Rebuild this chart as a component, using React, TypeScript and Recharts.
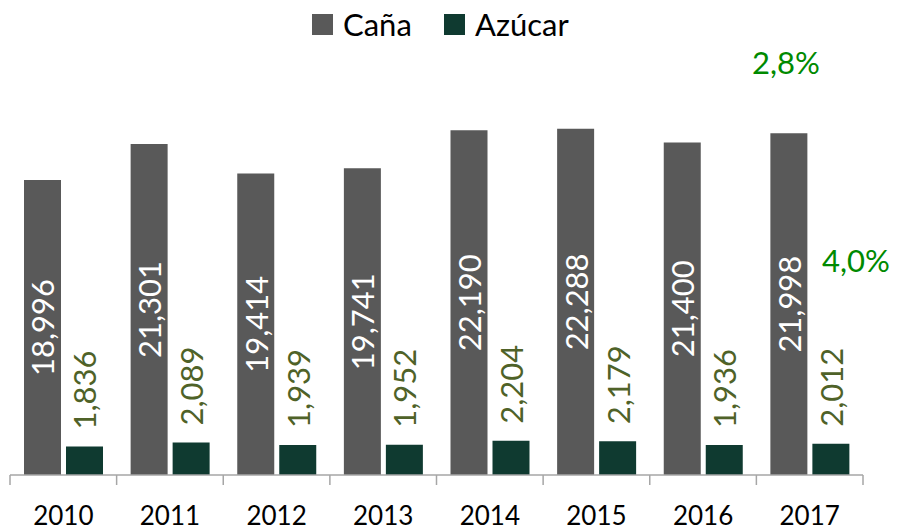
import React from 'react';
import { BarChart, Bar, XAxis, YAxis, LabelList } from 'recharts';

const years = ['2010', '2011', '2012', '2013', '2014', '2015', '2016', '2017'];
const cana = [18996, 21301, 19414, 19741, 22190, 22288, 21400, 21998];
const azucar = [1836, 2089, 1939, 1952, 2204, 2179, 1936, 2012];
const seriesNames = ['Caña', 'Azúcar'];
const growthCana = '2,8%';
const growthAzucar = '4,0%';

const W = 897;
const H = 531;
const M = { top: 9, right: 34, left: 10, bottom: 0 };
const FONT = 'Lato, "Open Sans", sans-serif';
const CANA_COLOR = '#595959';
const AZUCAR_COLOR = '#0f3a30';
const AZUCAR_LABEL = '#4f6228';
const GROWTH_COLOR = '#008a00';

const data = years.map((y, i) => ({ year: y, cana: cana[i], azucar: azucar[i] }));
const band = (W - M.left - M.right) / years.length;

const fmt = (v: number) => v.toLocaleString('en-US');

const CanaLabel = (props: any) => {
  const { x, y, width, height, value } = props;
  const cx = x + width / 2;
  const cy = y + height / 2;
  return (
    <text
      x={cx}
      y={cy}
      transform={`rotate(-90 ${cx} ${cy})`}
      textAnchor="middle"
      dominantBaseline="central"
      fill="#ffffff"
      fontSize={31}
      fontFamily={FONT}
    >
      {fmt(value)}
    </text>
  );
};

const AzucarLabel = (props: any) => {
  const { x, y, width, value } = props;
  const cx = x + width / 2;
  const cy = y - 17;
  return (
    <text
      x={cx}
      y={cy}
      transform={`rotate(-90 ${cx} ${cy})`}
      textAnchor="start"
      dominantBaseline="central"
      fill={AZUCAR_LABEL}
      fontSize={31}
      fontFamily={FONT}
    >
      {fmt(value)}
    </text>
  );
};

const YearTick = (props: any) => {
  const { x, y, payload, index } = props;
  const left = x - band / 2;
  const last = index === years.length - 1;
  return (
    <g>
      <line x1={left} y1={y} x2={left} y2={y + 10} stroke="#a6a6a6" strokeWidth={1.5} />
      {last && (
        <line x1={x + band / 2} y1={y} x2={x + band / 2} y2={y + 10} stroke="#a6a6a6" strokeWidth={1.5} />
      )}
      <text
        x={x}
        y={y + 40}
        textAnchor="middle"
        dominantBaseline="central"
        fill="#000000"
        fontSize={26}
        fontFamily={FONT}
      >
        {payload.value}
      </text>
    </g>
  );
};

const legendItem = (color: string, name: string, left: number) => (
  <div style={{ position: 'absolute', left, top: 2, display: 'flex', alignItems: 'center', height: 44 }}>
    <span style={{ width: 21, height: 21, background: color, display: 'inline-block', marginRight: 10 }} />
    <span style={{ fontSize: 31, color: '#000', fontFamily: FONT }}>{name}</span>
  </div>
);

export default function App() {
  return (
    <div style={{ position: 'absolute', left: 0, top: 0, width: W, height: H, background: '#fff' }}>
      <BarChart width={W} height={H} data={data} margin={M} barSize={37} barGap={5}>
        <XAxis
          dataKey="year"
          height={56}
          tickSize={0}
          tickMargin={0}
          tickLine={false}
          axisLine={{ stroke: '#a6a6a6', strokeWidth: 1.5 }}
          tick={<YearTick />}
          interval={0}
        />
        <YAxis hide domain={[0, 30000]} />
        <Bar dataKey="cana" fill={CANA_COLOR} isAnimationActive={false}>
          <LabelList dataKey="cana" content={<CanaLabel />} />
        </Bar>
        <Bar dataKey="azucar" fill={AZUCAR_COLOR} isAnimationActive={false}>
          <LabelList dataKey="azucar" content={<AzucarLabel />} />
        </Bar>
      </BarChart>
      {legendItem(CANA_COLOR, seriesNames[0], 312)}
      {legendItem(AZUCAR_COLOR, seriesNames[1], 444)}
      <div style={{ position: 'absolute', left: 752, top: 42, fontSize: 31, color: GROWTH_COLOR, fontFamily: FONT, lineHeight: '40px' }}>
        {growthCana}
      </div>
      <div style={{ position: 'absolute', left: 822, top: 240, fontSize: 31, color: GROWTH_COLOR, fontFamily: FONT, lineHeight: '40px' }}>
        {growthAzucar}
      </div>
    </div>
  );
}
